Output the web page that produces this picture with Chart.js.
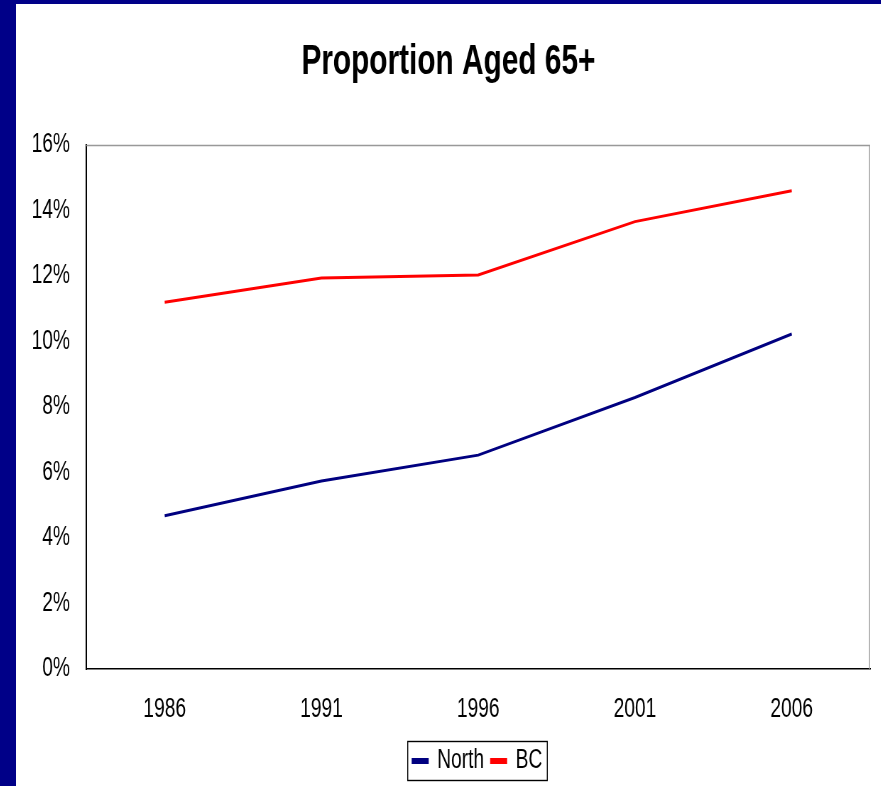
<!DOCTYPE html>
<html>
<head>
<meta charset="utf-8">
<script src="https://cdn.jsdelivr.net/npm/chart.js@4.4.0/dist/chart.umd.min.js"></script>
<style>
  html, body { margin: 0; padding: 0; background: #fff; overflow: hidden; }
  #marco {
    width: 865px; height: 782px;
    border-left: 16px solid #000088;
    border-top: 4px solid #000088;
    background: #fff;
    overflow: hidden;
  }
  /* letra angosta: se comprime el lienzo en horizontal */
  #angosto { width: 1218px; height: 782px; transform: scaleX(0.71); transform-origin: 0 0; }
</style>
</head>
<body>
<div id="marco"><div id="angosto"><canvas id="myChart" width="1218" height="782"></canvas></div></div>
<script>
const anios = ["1986", "1991", "1996", "2001", "2006"];
const north = [4.68, 5.74, 6.53, 8.29, 10.23];
const bc = [11.20, 11.94, 12.03, 13.66, 14.60];
const fuente = "'Liberation Sans', Arial, sans-serif";

// marco gris arriba/derecha, leyenda corrida a la derecha y su caja
const marcoPlot = {
    id: "marcoPlot",
    afterLayout(chart) {
        const l = chart.legend;
        l.left += 41;
        l.right += 41;
    },
    afterDraw(chart) {
        const ctx = chart.ctx;
        const a = chart.chartArea;
        ctx.save();
        ctx.strokeStyle = "#999";
        ctx.lineWidth = 1.4;
        ctx.beginPath();
        ctx.moveTo(a.left, a.top + 0.5);
        ctx.lineTo(a.right - 0.7, a.top + 0.5);
        ctx.lineTo(a.right - 0.7, a.bottom);
        ctx.stroke();
        const cajas = chart.legend.legendHitBoxes;
        if (cajas.length) {
            const ult = cajas[cajas.length - 1];
            const izq = cajas[0].left - 7;
            const der = ult.left + ult.width + 7;
            const medio = cajas[0].top + cajas[0].height / 2;
            ctx.strokeStyle = "#000";
            ctx.lineWidth = 1.4;
            ctx.strokeRect(izq, medio - 19.5, der - izq, 39);
        }
        ctx.restore();
    }
};

const config = {
    type: "line",
    data: {
        labels: anios,
        datasets: [
            { label: "North", data: north, borderColor: "#000080", backgroundColor: "#000080", borderWidth: 3, pointRadius: 0, tension: 0 },
            { label: "BC", data: bc, borderColor: "#ff0000", backgroundColor: "#ff0000", borderWidth: 3, pointRadius: 0, tension: 0 }
        ]
    },
    options: {
        responsive: false,
        animation: false,
        layout: { padding: { left: 15, right: 15, top: 0, bottom: 1.5 } },
        plugins: {
            title: {
                display: true,
                text: "Proportion Aged 65+",
                color: "#000",
                font: { family: fuente, size: 42, weight: "bold" },
                padding: { top: 33, bottom: 57.6 }
            },
            legend: {
                position: "bottom",
                labels: {
                    color: "#000",
                    font: { family: fuente, size: 27 },
                    boxWidth: 21,
                    boxHeight: 3,
                    padding: 10
                }
            },
            tooltip: { enabled: false }
        },
        scales: {
            x: {
                offset: true,
                grid: { display: false, drawTicks: false },
                border: { color: "#000", width: 1.5 },
                afterFit: (s) => { s.height = 68.5; },
                ticks: { color: "#000", font: { family: fuente, size: 27 }, padding: 24, maxRotation: 0 }
            },
            y: {
                min: 0,
                max: 16,
                grid: { display: false, drawTicks: false },
                border: { color: "#000", width: 2 },
                afterFit: (s) => { s.width = 84; },
                ticks: {
                    stepSize: 2,
                    color: "#000",
                    padding: 23,
                    font: { family: fuente, size: 27 },
                    callback: (v) => v + "%"
                }
            }
        }
    },
    plugins: [marcoPlot]
};

new Chart(document.querySelector("#myChart").getContext("2d"), config);
</script>
</body>
</html>
